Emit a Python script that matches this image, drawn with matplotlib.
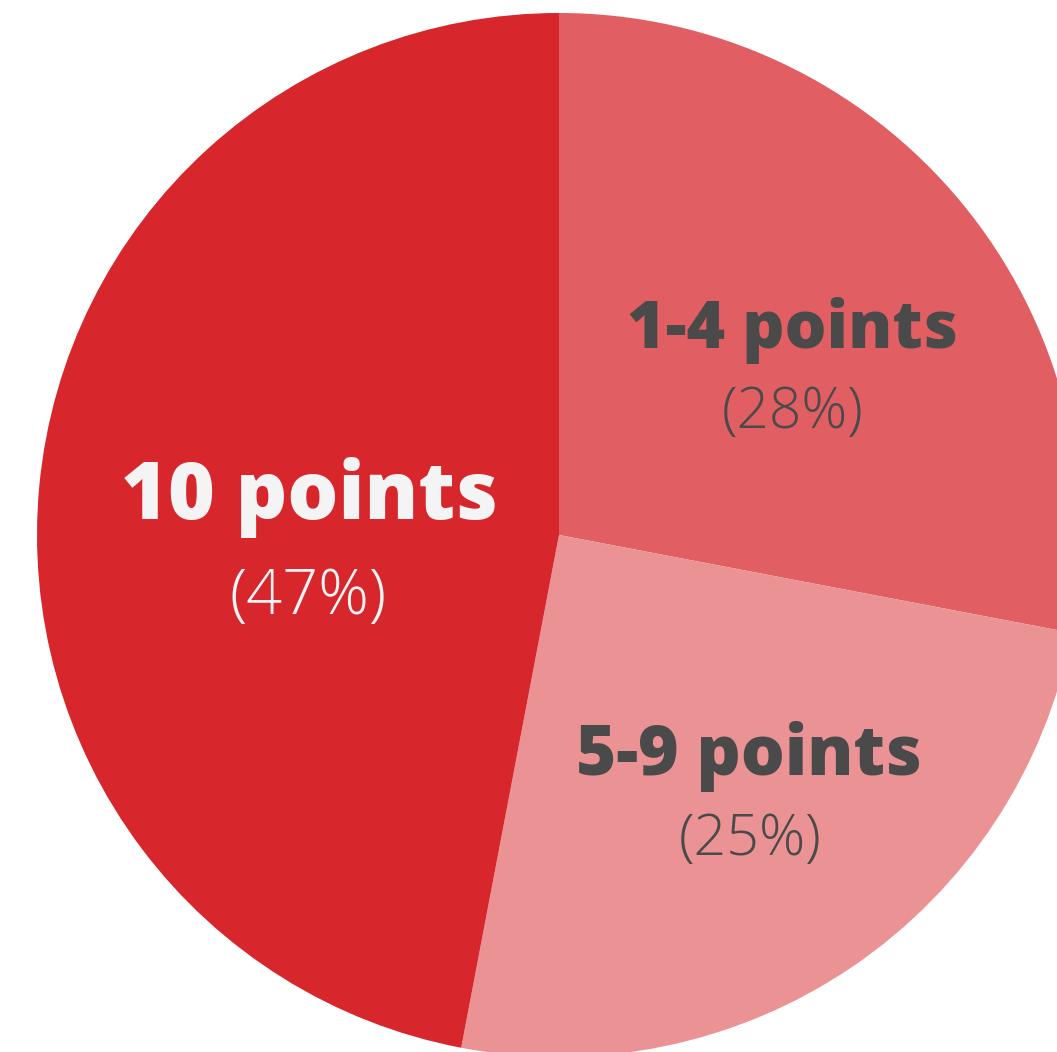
import matplotlib
matplotlib.use("Agg")
import matplotlib.pyplot as plt

labels = ["1-4 points", "5-9 points", "10 points"]
shares = [28, 25, 47]
colors = ["#E15E62", "#EB9294", "#D7262C"]
label_colors = ["#4A4A4A", "#4A4A4A", "#F4F4F4"]

W, H = 1057, 1052
cx, cy, R = 559, 535, 522

fig = plt.figure(figsize=(W / 100, H / 100), dpi=100)
ax = fig.add_axes([0, 0, 1, 1])
wedges, _ = ax.pie(shares, colors=colors, startangle=90, counterclock=False,
                   radius=1.0, center=(0, 0),
                   wedgeprops=dict(linewidth=0))
ax.set_xlim(-cx / R, (W - cx) / R)
ax.set_ylim(-(H - cy) / R, cy / R)
ax.set_aspect("equal")
ax.axis("off")

def px(x, y):
    return ((x - cx) / R, (cy - y) / R)

label_pos = [(792, 330), (749, 757), (309, 497)]
pct_pos = [(793, 413), (750, 840), (308, 598)]
label_w = [331, 346, 377]
pct_w = [142, 143, 157]

renderer = fig.canvas.get_renderer()

def fit(t, target):
    for _ in range(3):
        w = t.get_window_extent(renderer).width
        t.set_fontsize(t.get_fontsize() * target / w)

for i, lab in enumerate(labels):
    x, y = px(*label_pos[i])
    t = ax.text(x, y, lab, ha="center", va="center", fontsize=50,
                fontweight=800, family=["Open Sans", "DejaVu Sans"], color=label_colors[i])
    fit(t, label_w[i])
    x, y = px(*pct_pos[i])
    t = ax.text(x, y, f"({shares[i]}%)", ha="center", va="center", fontsize=30,
                fontweight=300, family=["Open Sans", "DejaVu Sans"], color=label_colors[i])
    fit(t, pct_w[i])

fig.savefig("out.png", dpi=100, facecolor="white")
